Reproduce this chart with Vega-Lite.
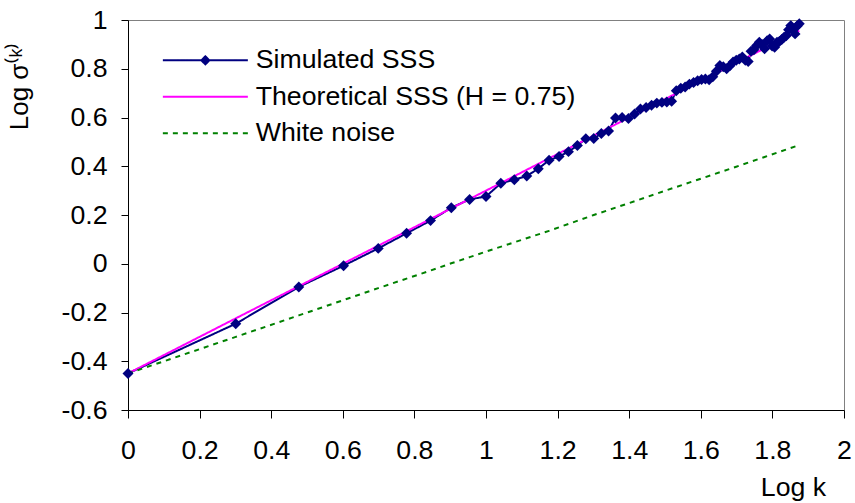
{
  "$schema": "https://vega.github.io/schema/vega-lite/v6.json",
  "width": 716,
  "height": 390,
  "autosize": {"type": "none"},
  "padding": {"left": 128, "top": 20, "right": 11, "bottom": 93},
  "background": "white",
  "config": {
    "font": "Liberation Sans",
    "view": {"stroke": "#808080", "strokeWidth": 1},
    "axis": {"grid": false, "domainColor": "#000000", "tickColor": "#000000", "labelColor": "#000000", "titleColor": "#000000", "labelFont": "Liberation Sans", "titleFont": "Liberation Sans", "titleFontWeight": "normal", "labelFontSize": 26.7, "labelFlush": false, "labelOverlap": false, "labelBound": false}
  },
  "data": {"values": [
    {"series": "Simulated SSS", "x": 0, "y": -0.45},
    {"series": "Simulated SSS", "x": 0.3010, "y": -0.246},
    {"series": "Simulated SSS", "x": 0.4771, "y": -0.095},
    {"series": "Simulated SSS", "x": 0.6021, "y": -0.008},
    {"series": "Simulated SSS", "x": 0.6990, "y": 0.063},
    {"series": "Simulated SSS", "x": 0.7782, "y": 0.125},
    {"series": "Simulated SSS", "x": 0.8451, "y": 0.177},
    {"series": "Simulated SSS", "x": 0.9031, "y": 0.23},
    {"series": "Simulated SSS", "x": 0.9542, "y": 0.264},
    {"series": "Simulated SSS", "x": 1.0, "y": 0.276},
    {"series": "Simulated SSS", "x": 1.0414, "y": 0.33},
    {"series": "Simulated SSS", "x": 1.0792, "y": 0.345},
    {"series": "Simulated SSS", "x": 1.1139, "y": 0.36},
    {"series": "Simulated SSS", "x": 1.1461, "y": 0.39},
    {"series": "Simulated SSS", "x": 1.1761, "y": 0.425},
    {"series": "Simulated SSS", "x": 1.2041, "y": 0.44},
    {"series": "Simulated SSS", "x": 1.2304, "y": 0.46},
    {"series": "Simulated SSS", "x": 1.2553, "y": 0.485},
    {"series": "Simulated SSS", "x": 1.2788, "y": 0.513},
    {"series": "Simulated SSS", "x": 1.3010, "y": 0.514},
    {"series": "Simulated SSS", "x": 1.3222, "y": 0.534},
    {"series": "Simulated SSS", "x": 1.3424, "y": 0.545},
    {"series": "Simulated SSS", "x": 1.3617, "y": 0.598},
    {"series": "Simulated SSS", "x": 1.3802, "y": 0.60},
    {"series": "Simulated SSS", "x": 1.3979, "y": 0.596},
    {"series": "Simulated SSS", "x": 1.4150, "y": 0.614},
    {"series": "Simulated SSS", "x": 1.4314, "y": 0.635},
    {"series": "Simulated SSS", "x": 1.4472, "y": 0.641},
    {"series": "Simulated SSS", "x": 1.4624, "y": 0.65},
    {"series": "Simulated SSS", "x": 1.4771, "y": 0.659},
    {"series": "Simulated SSS", "x": 1.4914, "y": 0.662},
    {"series": "Simulated SSS", "x": 1.5051, "y": 0.664},
    {"series": "Simulated SSS", "x": 1.5185, "y": 0.667},
    {"series": "Simulated SSS", "x": 1.5315, "y": 0.71},
    {"series": "Simulated SSS", "x": 1.5441, "y": 0.72},
    {"series": "Simulated SSS", "x": 1.5563, "y": 0.725},
    {"series": "Simulated SSS", "x": 1.5682, "y": 0.737},
    {"series": "Simulated SSS", "x": 1.5798, "y": 0.744},
    {"series": "Simulated SSS", "x": 1.5911, "y": 0.751},
    {"series": "Simulated SSS", "x": 1.6021, "y": 0.756},
    {"series": "Simulated SSS", "x": 1.6128, "y": 0.758},
    {"series": "Simulated SSS", "x": 1.6232, "y": 0.755},
    {"series": "Simulated SSS", "x": 1.6335, "y": 0.767},
    {"series": "Simulated SSS", "x": 1.6435, "y": 0.79},
    {"series": "Simulated SSS", "x": 1.6532, "y": 0.813},
    {"series": "Simulated SSS", "x": 1.6628, "y": 0.808},
    {"series": "Simulated SSS", "x": 1.6721, "y": 0.80},
    {"series": "Simulated SSS", "x": 1.6812, "y": 0.812},
    {"series": "Simulated SSS", "x": 1.6902, "y": 0.828},
    {"series": "Simulated SSS", "x": 1.6990, "y": 0.835},
    {"series": "Simulated SSS", "x": 1.7076, "y": 0.84},
    {"series": "Simulated SSS", "x": 1.7160, "y": 0.848},
    {"series": "Simulated SSS", "x": 1.7243, "y": 0.835},
    {"series": "Simulated SSS", "x": 1.7324, "y": 0.83},
    {"series": "Simulated SSS", "x": 1.7404, "y": 0.872},
    {"series": "Simulated SSS", "x": 1.7482, "y": 0.878},
    {"series": "Simulated SSS", "x": 1.7559, "y": 0.895},
    {"series": "Simulated SSS", "x": 1.7634, "y": 0.909},
    {"series": "Simulated SSS", "x": 1.7709, "y": 0.90},
    {"series": "Simulated SSS", "x": 1.7782, "y": 0.882},
    {"series": "Simulated SSS", "x": 1.7853, "y": 0.915},
    {"series": "Simulated SSS", "x": 1.7924, "y": 0.922},
    {"series": "Simulated SSS", "x": 1.7993, "y": 0.893},
    {"series": "Simulated SSS", "x": 1.8062, "y": 0.888},
    {"series": "Simulated SSS", "x": 1.8129, "y": 0.909},
    {"series": "Simulated SSS", "x": 1.8195, "y": 0.912},
    {"series": "Simulated SSS", "x": 1.8261, "y": 0.92},
    {"series": "Simulated SSS", "x": 1.8325, "y": 0.929},
    {"series": "Simulated SSS", "x": 1.8388, "y": 0.935},
    {"series": "Simulated SSS", "x": 1.8451, "y": 0.96},
    {"series": "Simulated SSS", "x": 1.8513, "y": 0.977},
    {"series": "Simulated SSS", "x": 1.8573, "y": 0.96},
    {"series": "Simulated SSS", "x": 1.8633, "y": 0.943},
    {"series": "Simulated SSS", "x": 1.8692, "y": 0.975},
    {"series": "Simulated SSS", "x": 1.8751, "y": 0.985},
    {"series": "Theoretical SSS (H = 0.75)", "x": 0, "y": -0.45},
    {"series": "Theoretical SSS (H = 0.75)", "x": 0.3010, "y": -0.224},
    {"series": "Theoretical SSS (H = 0.75)", "x": 0.4771, "y": -0.092},
    {"series": "Theoretical SSS (H = 0.75)", "x": 0.6990, "y": 0.074},
    {"series": "Theoretical SSS (H = 0.75)", "x": 1.0, "y": 0.30},
    {"series": "Theoretical SSS (H = 0.75)", "x": 1.3010, "y": 0.526},
    {"series": "Theoretical SSS (H = 0.75)", "x": 1.6021, "y": 0.752},
    {"series": "Theoretical SSS (H = 0.75)", "x": 1.8751, "y": 0.956},
    {"series": "White noise", "x": 0, "y": -0.45},
    {"series": "White noise", "x": 0.3010, "y": -0.30},
    {"series": "White noise", "x": 0.4771, "y": -0.212},
    {"series": "White noise", "x": 0.6021, "y": -0.149},
    {"series": "White noise", "x": 0.6990, "y": -0.10},
    {"series": "White noise", "x": 0.7782, "y": -0.061},
    {"series": "White noise", "x": 0.8451, "y": -0.028},
    {"series": "White noise", "x": 0.9031, "y": 0.002},
    {"series": "White noise", "x": 0.9542, "y": 0.027},
    {"series": "White noise", "x": 1.0, "y": 0.05},
    {"series": "White noise", "x": 1.0792, "y": 0.088},
    {"series": "White noise", "x": 1.1761, "y": 0.135},
    {"series": "White noise", "x": 1.3010, "y": 0.20},
    {"series": "White noise", "x": 1.3979, "y": 0.248},
    {"series": "White noise", "x": 1.4771, "y": 0.288},
    {"series": "White noise", "x": 1.6021, "y": 0.35},
    {"series": "White noise", "x": 1.6990, "y": 0.398},
    {"series": "White noise", "x": 1.7782, "y": 0.438},
    {"series": "White noise", "x": 1.8751, "y": 0.487}
  ]},
  "encoding": {
    "x": {"field": "x", "type": "quantitative", "scale": {"domain": [0, 2], "nice": false, "zero": false},
      "axis": {"values": [0, 0.2, 0.4, 0.6, 0.8, 1, 1.2, 1.4, 1.6, 1.8, 2], "labelExpr": "format(datum.value, '.1~f')", "tickSize": 8, "labelBaseline": "alphabetic", "labelPadding": 40, "title": "Log k", "titleFontSize": 26.7, "titleX": 665, "titleY": 85, "titleBaseline": "alphabetic", "titleAlign": "center", "titleAnchor": null}},
    "y": {"field": "y", "type": "quantitative", "scale": {"domain": [-0.6, 1], "nice": false, "zero": false},
      "axis": {"values": [-0.6, -0.4, -0.2, 0, 0.2, 0.4, 0.6, 0.8, 1], "labelExpr": "datum.value < -0.001 ? '-' + format(-datum.value, '.1~f') : format(abs(datum.value), '.1~f')", "tickSize": 7, "labelPadding": 14, "labelBaseline": "middle", "title": "Log σ⁽ᵏ⁾", "titleFontSize": 26, "titleX": -101, "titleY": 66, "titleAngle": 270, "titleBaseline": "alphabetic", "titleAlign": "center"}}
  },
  "layer": [
    {
      "mark": {"type": "line", "strokeWidth": 2},
      "encoding": {
        "color": {"field": "series", "type": "nominal",
          "scale": {"domain": ["Simulated SSS", "Theoretical SSS (H = 0.75)", "White noise"], "range": ["#000080", "#FF00FF", "#008000"]},
          "legend": {"title": null, "orient": "none", "legendX": 64, "legendY": 27, "padding": 0, "symbolSize": 100, "symbolStrokeWidth": 2, "labelFontSize": 26.7, "labelFont": "Liberation Sans", "labelColor": "#000000", "labelLimit": 0, "labelOffset": 37, "rowPadding": 8.5,
            "encode": {"symbols": {"update": {
              "shape": {"signal": "datum.value === 'Simulated SSS' ? 'M-8.5,0H8.5M0,-0.8L0.8,0L0,0.8L-0.8,0Z' : 'M-8.5,0H8.5'"},
              "fill": {"signal": "datum.value === 'Simulated SSS' ? '#000080' : 'transparent'"}
            }}}}},
        "strokeDash": {"field": "series", "type": "nominal",
          "scale": {"domain": ["Simulated SSS", "Theoretical SSS (H = 0.75)", "White noise"], "range": [[1, 0], [1, 0], [5, 5]]},
          "legend": {"title": null, "orient": "none", "legendX": 64, "legendY": 27, "padding": 0, "symbolSize": 100, "symbolStrokeWidth": 2, "labelFontSize": 26.7, "labelFont": "Liberation Sans", "labelColor": "#000000", "labelLimit": 0, "labelOffset": 37, "rowPadding": 8.5}}
      }
    },
    {
      "transform": [{"filter": "datum.series === 'Simulated SSS'"}],
      "mark": {"type": "point", "shape": "diamond", "filled": true, "size": 120, "color": "#000080", "opacity": 1}
    }
  ]
}
